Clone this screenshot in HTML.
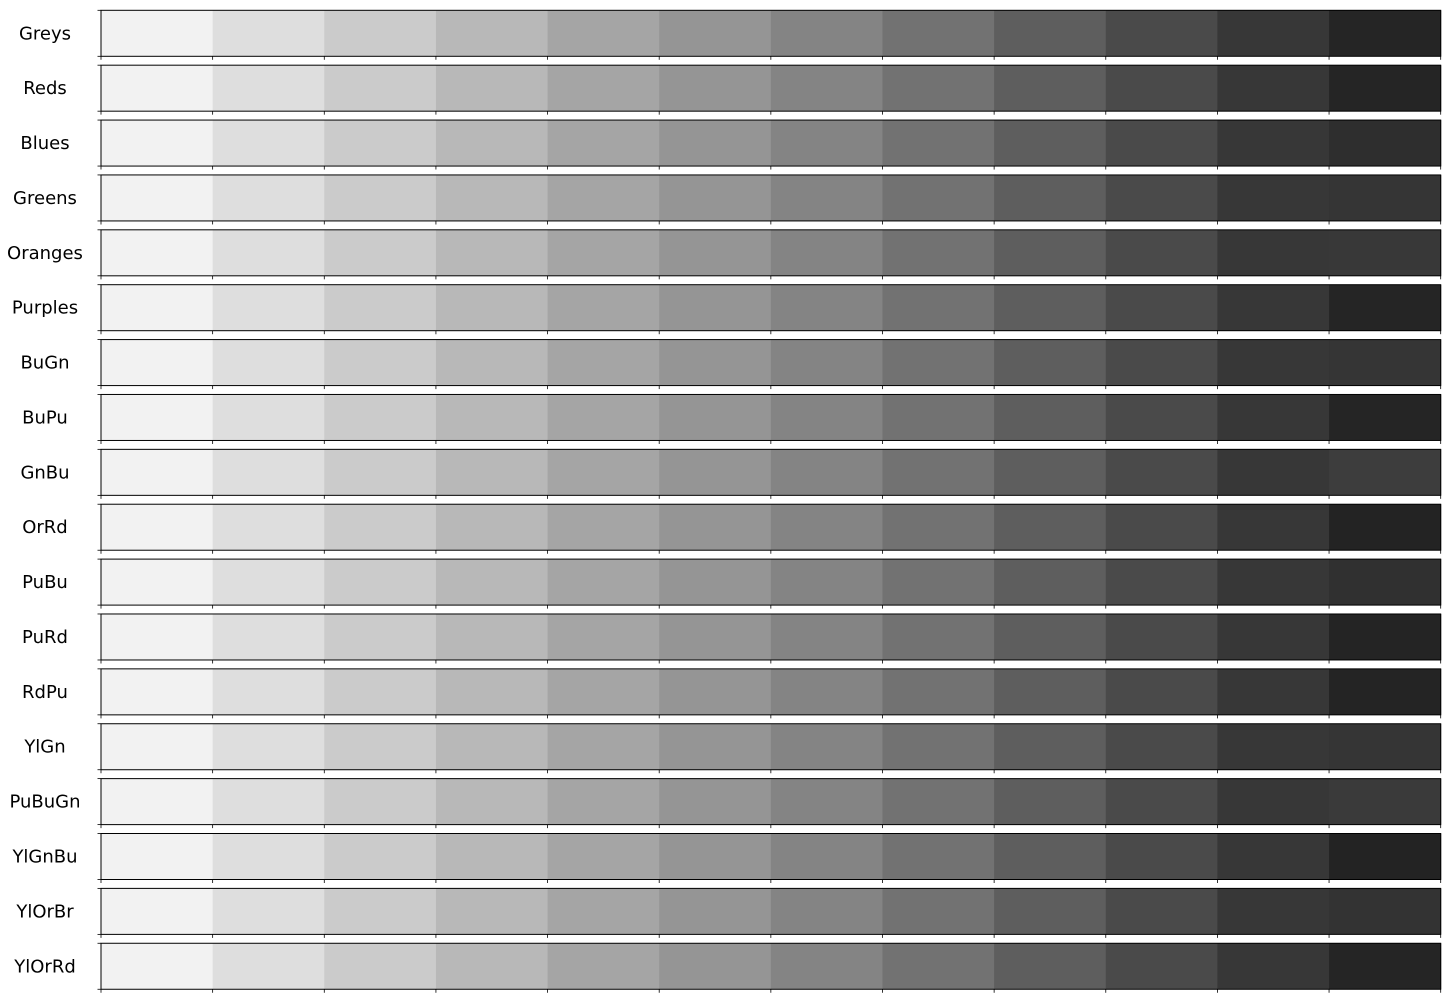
<!DOCTYPE html>
<html><head><meta charset="utf-8"><style>
body{margin:0;background:#fff;width:1450px;height:999px;overflow:hidden}
</style></head><body>
<svg id="chart" width="1450" height="999" xmlns="http://www.w3.org/2000/svg" font-family="DejaVu Sans, sans-serif"></svg>
<script>
const names=["Greys","Reds","Blues","Greens","Oranges","Purples","BuGn","BuPu","GnBu","OrRd","PuBu","PuRd","RdPu","YlGn","PuBuGn","YlGnBu","YlOrBr","YlOrRd"];
const baseLevels=[242,222,203,184,165,149,132,114,94,74,55];
const lastLevels=[37,37,46,53,56,37,53,37,61,35,48,36,36,53,58,35,51,37];
const svg=document.getElementById('chart');
const NS='http://www.w3.org/2000/svg';
const x0=101,x1=1440.7,top0=10.3,pitch=54.88,h=46;
const cw=(x1-x0)/12;
function xs(i){return x0+i*cw;}
function ys(r){return top0+r*pitch;}
function mk(t,a){const e=document.createElementNS(NS,t);for(const k in a)e.setAttribute(k,a[k]);svg.appendChild(e);return e;}
names.forEach((n,r)=>{
  const y=ys(r);
  const vals=baseLevels.concat([lastLevels[r]]);
  vals.forEach((v,i)=>{
    const c=mk('rect',{x:xs(i),y:y,width:cw+0.5,height:h,fill:`rgb(${v},${v},${v})`});
    
    
  });
  const fr=mk('rect',{x:x0,y:y,width:x1-x0,height:h,fill:'none',stroke:'#000','stroke-width':1});
  
  
  for(let i=0;i<=12;i++){mk('line',{x1:xs(i),x2:xs(i),y1:y+h,y2:y+h+3.5,stroke:'#000','stroke-width':0.8});}
  mk('line',{x1:x0-3.5,x2:x0,y1:y,y2:y,stroke:'#000','stroke-width':0.8});
  mk('line',{x1:x0-3.5,x2:x0,y1:y+h,y2:y+h,stroke:'#000','stroke-width':0.8});
  const t=mk('text',{x:45,y:y+h/2+6,'text-anchor':'middle','font-size':18,fill:'#000'});
  t.textContent=n;
  
  
});
</script>
</body></html>
